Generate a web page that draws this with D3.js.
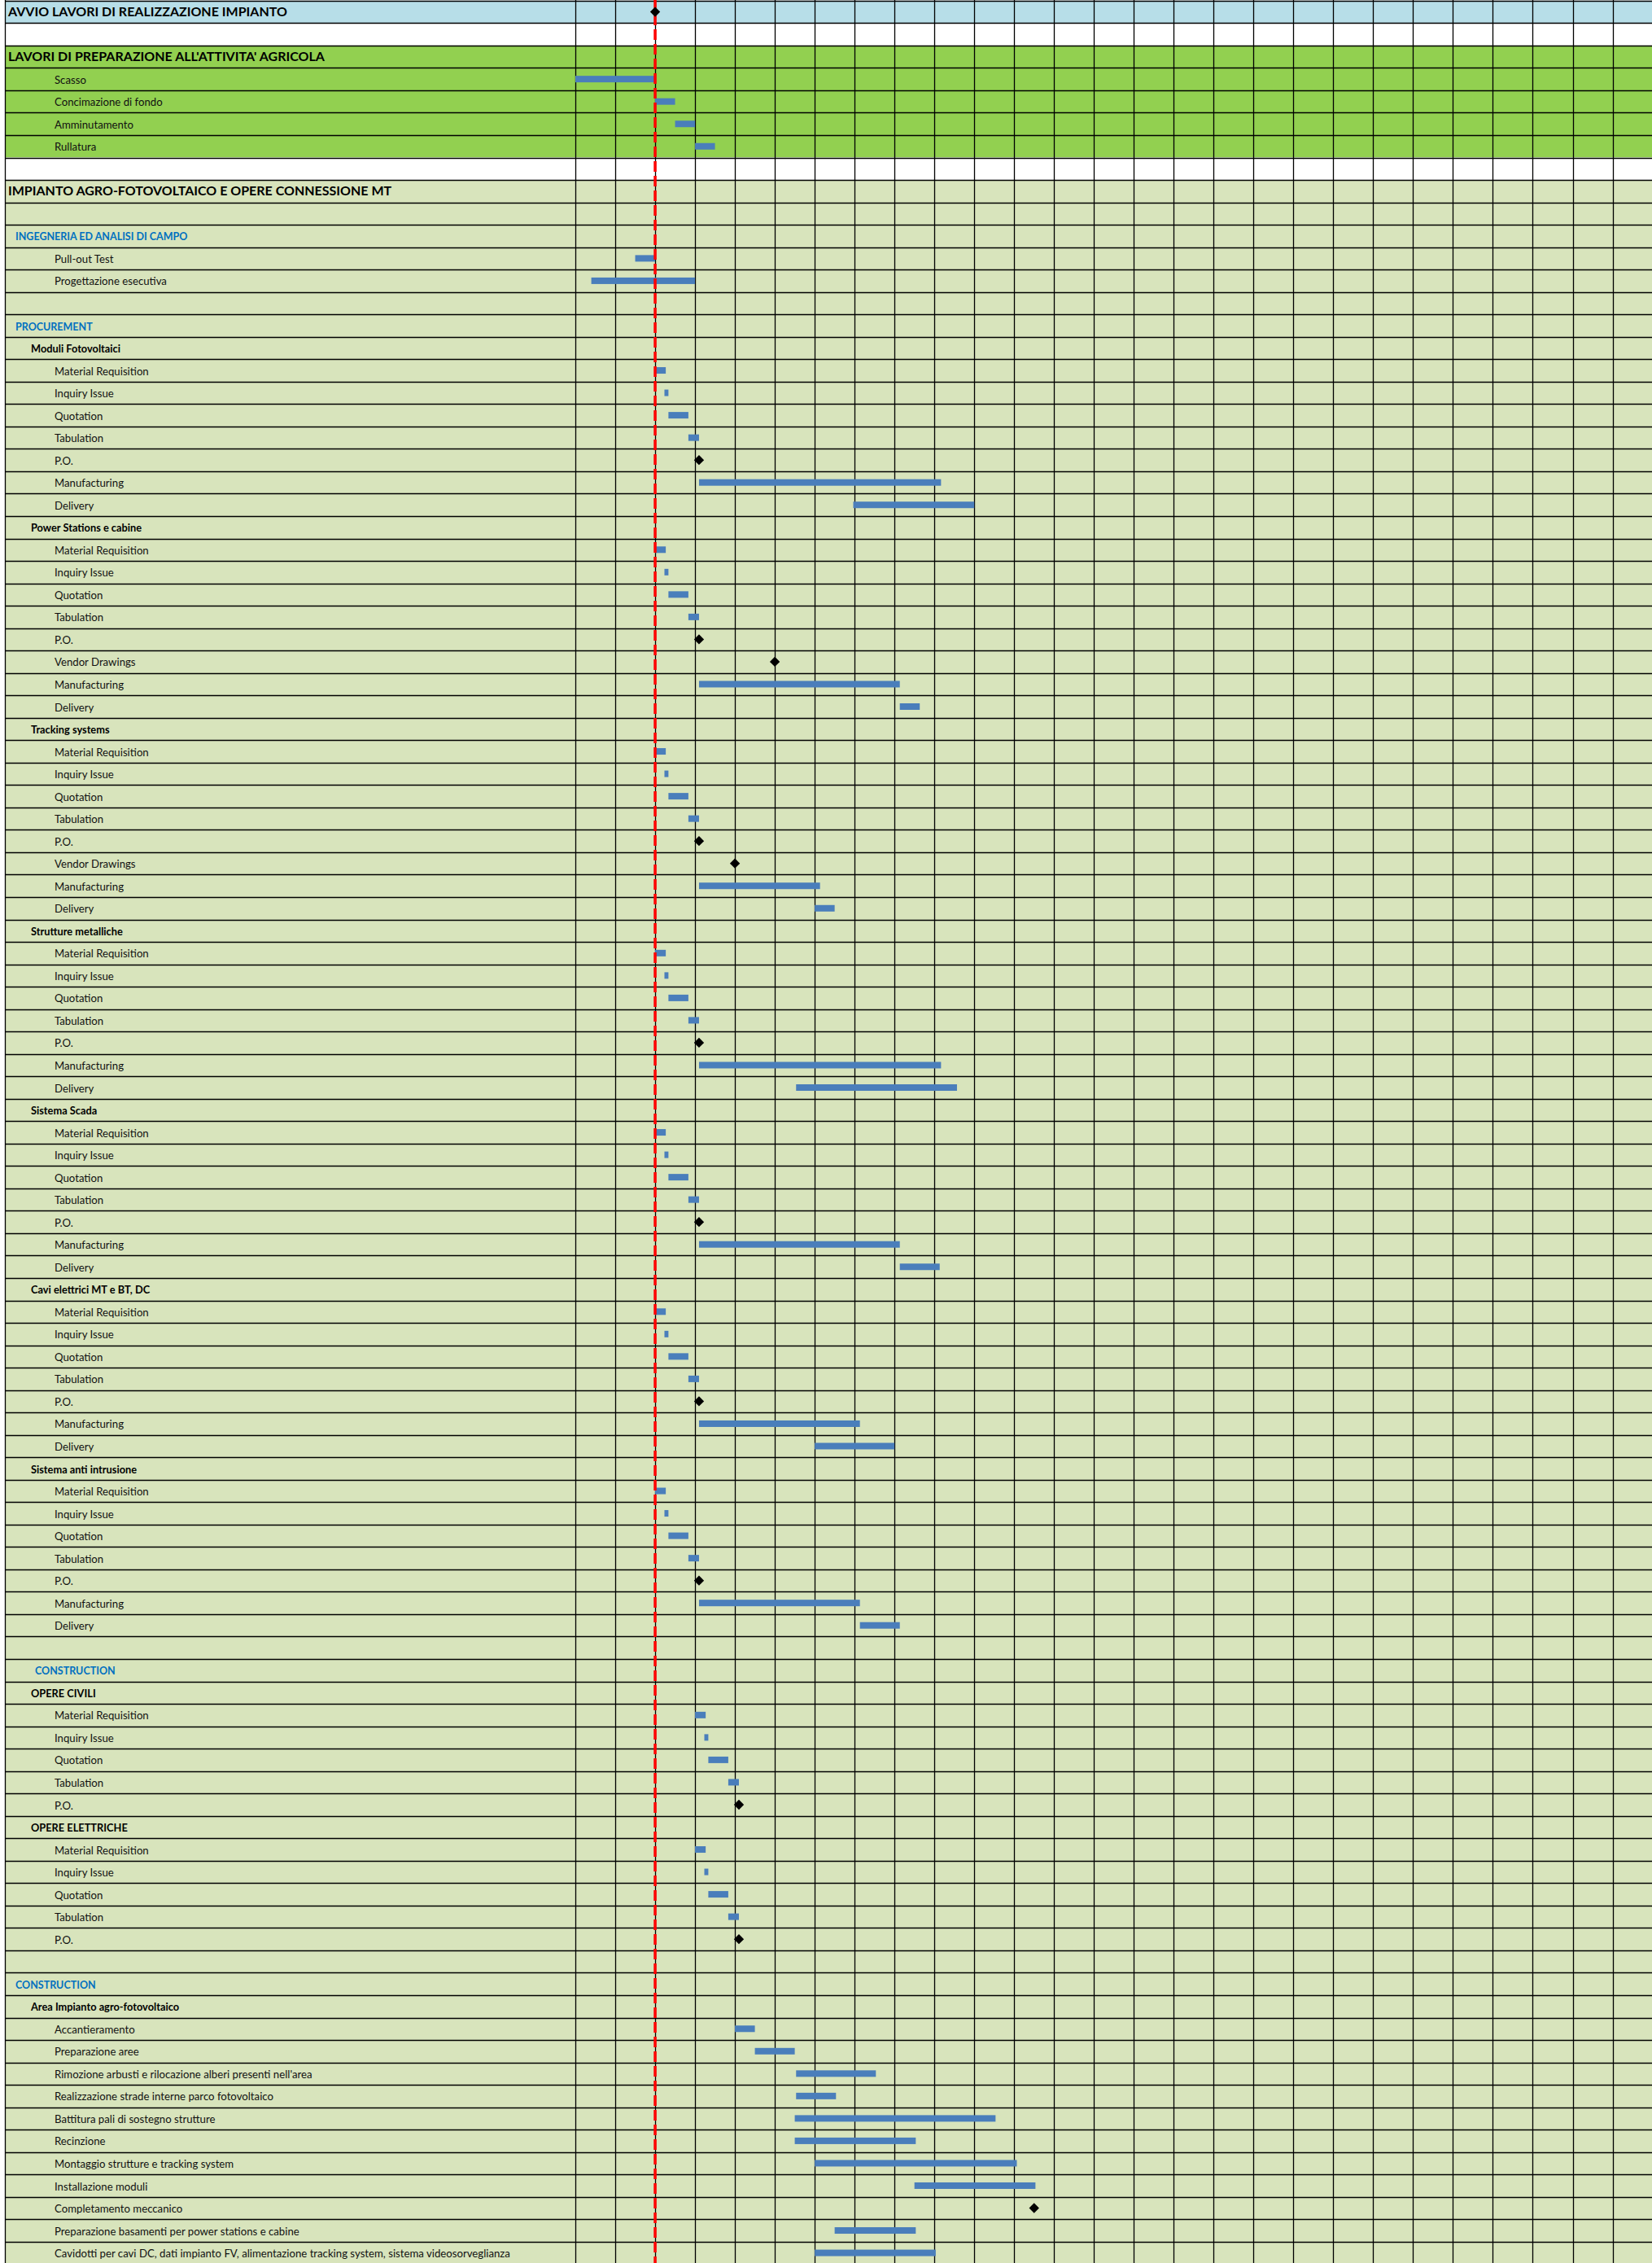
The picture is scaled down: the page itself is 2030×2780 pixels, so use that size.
<!DOCTYPE html>
<html lang="it">
<head>
<meta charset="utf-8">
<title>Cronoprogramma impianto agro-fotovoltaico</title>
<script src="https://cdn.jsdelivr.net/npm/d3@7"></script>
<style>
  body { margin: 0; background: #fff; overflow: hidden; }
  svg { display: block; font-family: Lato, "Open Sans", sans-serif; }
</style>
</head>
<body>
<script>
// SIZES
var w = 2030, h = 2780;
var rowH = 27.53, top0 = 0.8;
var tableLeft = 6, chartLeft = 707, colW = 49.02;
var nCols = 27, daysPerCol = 30;
var barH = 8;

// ROWS: label, kind, start day, end day (only start = milestone)
var headRows = [
  ["AVVIO LAVORI DI REALIZZAZIONE IMPIANTO", "title", 60],
  ["", "blank"],
  ["LAVORI DI PREPARAZIONE ALL'ATTIVITA' AGRICOLA", "title"],
  ["Scasso", "task", 0, 60],
  ["Concimazione di fondo", "task", 60, 75],
  ["Amminutamento", "task", 75, 90],
  ["Rullatura", "task", 90, 105],
  ["", "blank"],
  ["IMPIANTO AGRO-FOTOVOLTAICO E OPERE CONNESSIONE MT", "title"],
  ["", "blank"],
  ["INGEGNERIA ED ANALISI DI CAMPO", "sect"],
  ["Pull-out Test", "task", 45, 60],
  ["Progettazione esecutiva", "task", 12, 90],
  ["", "blank"],
  ["PROCUREMENT", "sect"]
];

var procurementRows = [
  ["Moduli Fotovoltaici", "group"],
  ["Material Requisition", "task", 60, 68],
  ["Inquiry Issue", "task", 67, 70],
  ["Quotation", "task", 70, 85],
  ["Tabulation", "task", 85, 93],
  ["P.O.", "task", 93],
  ["Manufacturing", "task", 93, 275],
  ["Delivery", "task", 209, 300],
  ["Power Stations e cabine", "group"],
  ["Material Requisition", "task", 60, 68],
  ["Inquiry Issue", "task", 67, 70],
  ["Quotation", "task", 70, 85],
  ["Tabulation", "task", 85, 93],
  ["P.O.", "task", 93],
  ["Vendor Drawings", "task", 150],
  ["Manufacturing", "task", 93, 244],
  ["Delivery", "task", 244, 259],
  ["Tracking systems", "group"],
  ["Material Requisition", "task", 60, 68],
  ["Inquiry Issue", "task", 67, 70],
  ["Quotation", "task", 70, 85],
  ["Tabulation", "task", 85, 93],
  ["P.O.", "task", 93],
  ["Vendor Drawings", "task", 120],
  ["Manufacturing", "task", 93, 184],
  ["Delivery", "task", 180, 195],
  ["Strutture metalliche", "group"],
  ["Material Requisition", "task", 60, 68],
  ["Inquiry Issue", "task", 67, 70],
  ["Quotation", "task", 70, 85],
  ["Tabulation", "task", 85, 93],
  ["P.O.", "task", 93],
  ["Manufacturing", "task", 93, 275],
  ["Delivery", "task", 166, 287],
  ["Sistema Scada", "group"],
  ["Material Requisition", "task", 60, 68],
  ["Inquiry Issue", "task", 67, 70],
  ["Quotation", "task", 70, 85],
  ["Tabulation", "task", 85, 93],
  ["P.O.", "task", 93],
  ["Manufacturing", "task", 93, 244],
  ["Delivery", "task", 244, 274],
  ["Cavi elettrici MT e BT, DC", "group"],
  ["Material Requisition", "task", 60, 68],
  ["Inquiry Issue", "task", 67, 70],
  ["Quotation", "task", 70, 85],
  ["Tabulation", "task", 85, 93],
  ["P.O.", "task", 93],
  ["Manufacturing", "task", 93, 214],
  ["Delivery", "task", 180, 240],
  ["Sistema anti intrusione", "group"],
  ["Material Requisition", "task", 60, 68],
  ["Inquiry Issue", "task", 67, 70],
  ["Quotation", "task", 70, 85],
  ["Tabulation", "task", 85, 93],
  ["P.O.", "task", 93],
  ["Manufacturing", "task", 93, 214],
  ["Delivery", "task", 214, 244],
  ["", "blank"]
];

var contractRows = [
  ["CONSTRUCTION", "sect2"],
  ["OPERE CIVILI", "group"],
  ["Material Requisition", "task", 90, 98],
  ["Inquiry Issue", "task", 97, 100],
  ["Quotation", "task", 100, 115],
  ["Tabulation", "task", 115, 123],
  ["P.O.", "task", 123],
  ["OPERE ELETTRICHE", "group"],
  ["Material Requisition", "task", 90, 98],
  ["Inquiry Issue", "task", 97, 100],
  ["Quotation", "task", 100, 115],
  ["Tabulation", "task", 115, 123],
  ["P.O.", "task", 123],
  ["", "blank"]
];

var constructionRows = [
  ["CONSTRUCTION", "sect"],
  ["Area Impianto agro-fotovoltaico", "group"],
  ["Accantieramento", "task", 120, 135],
  ["Preparazione aree", "task", 135, 165],
  ["Rimozione arbusti e rilocazione alberi presenti nell'area", "task", 166, 226],
  ["Realizzazione strade interne parco fotovoltaico", "task", 166, 196],
  ["Battitura pali di sostegno strutture", "task", 165, 316],
  ["Recinzione", "task", 165, 256],
  ["Montaggio strutture e tracking system", "task", 180, 332],
  ["Installazione moduli", "task", 255, 346],
  ["Completamento meccanico", "task", 345],
  ["Preparazione basamenti per power stations e cabine", "task", 195, 256],
  ["Cavidotti per cavi DC, dati impianto FV, alimentazione tracking system, sistema videosorveglianza", "task", 180, 271]
];

// row bands: name, first row, last row (exclusive)
var bands = [["avvio", 0, 1], ["vuoto", 1, 2], ["agricola", 2, 7], ["vuoto", 7, 8], ["impianto", 8, 101]];

// day of the red "today" line
var todayDay = 60;

var rows = headRows.concat(procurementRows, contractRows, constructionRows);

// STYLE MAPS
var bandColor = { avvio: "#B7DEE8", vuoto: "#FFFFFF", agricola: "#92D050", impianto: "#D8E4BC" };
var kindX = { title: 10, sect: 19, sect2: 43, group: 38, task: 67, blank: 0 };
var kindFont = { title: "700 16px", sect: "700 12.5px", sect2: "700 12.5px", group: "700 12.8px", task: "400 13.2px", blank: "400 13px" };
var kindColor = { title: "#000", sect: "#0070C0", sect2: "#0070C0", group: "#000", task: "#111", blank: "#000" };

// SCALES
var x = d3.scaleLinear()
  .domain([0, nCols * daysPerCol])
  .range([chartLeft, chartLeft + nCols * colW]);
var y = d3.scaleLinear()
  .domain([0, rows.length])
  .range([top0, top0 + rows.length * rowH]);

var svg = d3.select("body").append("svg")
  .attr("width", w)
  .attr("height", h);

// BACKGROUND BANDS
svg.append("g").selectAll("rect")
  .data(bands)
  .enter().append("rect")
  .attr("x", tableLeft)
  .attr("y", function(d) { return y(d[1]); })
  .attr("width", w - tableLeft)
  .attr("height", function(d) { return y(d[2]) - y(d[1]); })
  .attr("fill", function(d) { return bandColor[d[0]]; });

// GRID: horizontal row borders
svg.append("g").selectAll("line")
  .data(d3.range(rows.length + 1))
  .enter().append("line")
  .attr("x1", tableLeft).attr("x2", w)
  .attr("y1", function(d) { return Math.round(y(d)) + 0.5; })
  .attr("y2", function(d) { return Math.round(y(d)) + 0.5; })
  .attr("stroke", "#000").attr("stroke-width", 1.3);

// GRID: vertical column borders (one per column)
var colTicks = d3.range(0, nCols + 1).map(function(i) { return i * daysPerCol; });
svg.append("g").selectAll("line")
  .data(colTicks)
  .enter().append("line")
  .attr("x1", function(d) { return Math.round(x(d)) + 0.5; })
  .attr("x2", function(d) { return Math.round(x(d)) + 0.5; })
  .attr("y1", 0).attr("y2", h)
  .attr("stroke", "#000").attr("stroke-width", 1.3);

svg.append("line")
  .attr("x1", tableLeft + 0.5).attr("x2", tableLeft + 0.5)
  .attr("y1", 0).attr("y2", h)
  .attr("stroke", "#000").attr("stroke-width", 1.3);

// LABELS
svg.append("g").selectAll("text")
  .data(rows)
  .enter().append("text")
  .attr("x", function(d) { return kindX[d[1]]; })
  .attr("y", function(d, i) { return y(i) + 19.3; })
  .style("font", function(d) { return kindFont[d[1]] + " Lato, 'Open Sans', sans-serif"; })
  .attr("fill", function(d) { return kindColor[d[1]]; })
  .text(function(d) { return d[0]; });

// BARS
var barRows = rows.map(function(d, i) { return { r: d, i: i }; })
  .filter(function(d) { return d.r.length === 4; });
svg.append("g").selectAll("rect")
  .data(barRows)
  .enter().append("rect")
  .attr("x", function(d) { return x(d.r[2]); })
  .attr("y", function(d) { return y(d.i + 0.5) - barH / 2; })
  .attr("width", function(d) { return x(d.r[3]) - x(d.r[2]); })
  .attr("height", barH)
  .attr("fill", "#4A7EBB");

// TODAY LINE
svg.append("line")
  .attr("x1", x(todayDay)).attr("x2", x(todayDay))
  .attr("y1", 0).attr("y2", h)
  .attr("stroke", "#FF0000")
  .attr("stroke-width", 3.5)
  .attr("stroke-dasharray", "13,5");

// MILESTONES
var msRows = rows.map(function(d, i) { return { r: d, i: i }; })
  .filter(function(d) { return d.r.length === 3; });
var diamond = d3.symbol().type(d3.symbolSquare).size(76);
svg.append("g").selectAll("path")
  .data(msRows)
  .enter().append("path")
  .attr("d", diamond)
  .attr("transform", function(d) {
    return "translate(" + x(d.r[2]) + "," + y(d.i + 0.5) + ") rotate(45)";
  })
  .attr("fill", "#000");
</script>
</body>
</html>
